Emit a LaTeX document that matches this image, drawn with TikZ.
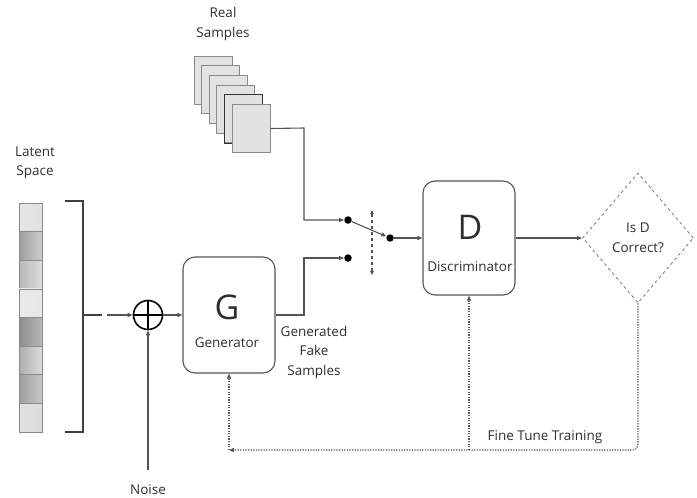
\documentclass[tikz,border=0pt]{standalone}
\usepackage{fontspec}
\setmainfont{Open Sans}
\usetikzlibrary{arrows.meta,shapes.geometric,calc}
\definecolor{linegray}{HTML}{555555}
\definecolor{textgray}{HTML}{2E2E2E}
\definecolor{sheetfill}{HTML}{E2E2E2}
\definecolor{sheetedge}{HTML}{8A8A8A}
\begin{document}
\begin{tikzpicture}[x=1pt,y=-1pt,
  line/.style={draw=linegray, line width=1.1pt},
  tip/.style={-{Triangle[length=5pt,width=4pt]}},
  lbl/.style={text=textgray, font=\fontsize{13.5}{19.5}\selectfont, align=center, inner sep=0},
  biglbl/.style={text=textgray, font=\fontsize{34}{36}\selectfont, inner sep=0},
  block/.style={draw=linegray, line width=1.1pt, rounded corners=12pt, fill=white,
                minimum width=92pt, minimum height=116pt, inner sep=0},
  sheet/.style={draw=sheetedge, fill=sheetfill, line width=0.9pt,
                minimum width=38pt, minimum height=48pt, inner sep=0},
  cell/.style={draw=sheetedge, line width=0.6pt},
  dot/.style={circle, fill=black, minimum size=7.5pt, inner sep=0},
  fb/.style={draw=linegray, line width=1.1pt, dash pattern=on 1.3pt off 1.3pt}
]
\useasboundingbox (0,0) rectangle (697,498);

% real sample stack
\node[lbl] (reallbl) at (223,24) {Real\\Samples};
\foreach \k in {1,...,6}{
  \node[sheet] (sheet\k) at ({213+7.6*(\k-1)},{80+9.7*(\k-1)}) {};
}
\draw[draw=black!80, line width=0.9pt] (sheet5.south west) rectangle (sheet5.north east);
\node[sheet] (sheet6) at ({213+7.6*5},{80+9.7*5}) {};

% latent space column
\node[lbl] (latentlbl) at (35,163) {Latent\\Space};
\foreach \i/\a/\b in {0/10/12, 1/38/20, 2/28/14, 3/8/10, 4/45/28, 5/32/14, 6/38/22, 7/12/14}{
  \shade[left color=black!\a, right color=black!\b]
    (19,{203+28.6*\i}) rectangle (42,{203+28.6*(\i+1)});
  \draw[cell] (19,{203+28.6*\i}) rectangle (42,{203+28.6*(\i+1)});
}

% bracket gathering the latent vector
\draw[line, line width=1.4pt, draw=black!75] (65,201) -- (83,201) -- (83,432) -- (65,432);
\coordinate (brk) at (83,315);
\coordinate (brkend) at (102,315);
\coordinate (zin) at (107,315);
\draw[line, line width=1.4pt, draw=black!75] (brk) -- (brkend);

% noise adder
\node[circle, draw=black, line width=1.6pt, minimum size=29pt, inner sep=0] (sum) at (148,315) {};
\draw[black, line width=1.6pt] (sum.north) -- (sum.south) (sum.west) -- (sum.east);
\draw[line, tip] (zin) -- (sum.west);
\node[lbl] (noise) at (148,490) {Noise};
\coordinate (noisetop) at (148,470);
\draw[line, tip] (noisetop) -- (sum.south);

% generator
\node[block] (gen) at (229,315) {};
\node[biglbl] (glbl) at (227,307) {G};
\node[lbl] (genlbl) at (227,343) {Generator};
\draw[line, tip] (sum.east) -- (gen.west);
\node[lbl] (fakelbl) at (314,352) {Generated\\Fake\\Samples};

% switch between real and fake inputs
\node[dot] (dotA) at (348,220) {};
\node[dot] (dotB) at (348,258) {};
\node[dot] (dotC) at (390,238) {};
\coordinate (realturn) at (304,128);
\draw[line, tip] (sheet6.east) -- (realturn) |- (dotA);
\coordinate (faketurn) at (304,315);
\draw[line, tip] (gen.east) -- (faketurn) |- (dotB);
\draw[line, tip] (dotA) -- (dotC);
\coordinate (swtop) at (372,210);
\coordinate (swbot) at (372,275);
\draw[line, dashed, {Triangle[length=4pt,width=3.5pt]}-{Triangle[length=4pt,width=3.5pt]}] (swtop) -- (swbot);

% discriminator
\node[block, minimum height=114pt] (disc) at (469,238) {};
\node[biglbl] (dlbl) at (470,227) {D};
\node[lbl] (disclbl) at (470,267) {Discriminator};
\draw[line, tip] (dotC) -- (disc.west);

% decision
\node[diamond, draw=linegray!80, dashed, line width=0.8pt, minimum width=111pt,
      minimum height=130pt, inner sep=0, lbl] (check) at (638,238) {Is D\\Correct?};
\draw[line, tip] (disc.east) -- (check.west);

% fine tuning feedback
\coordinate (fbL) at (229,450);
\coordinate (fbD) at (469,450);
\draw[fb, tip, rounded corners=5pt] (check.south) |- (fbL);
\draw[fb, tip] (fbL) -- (gen.south);
\draw[fb, tip] (fbD) -- (disc.south);
\node[lbl] (finelbl) at (545,437) {Fine Tune Training};
\end{tikzpicture}
\end{document}
